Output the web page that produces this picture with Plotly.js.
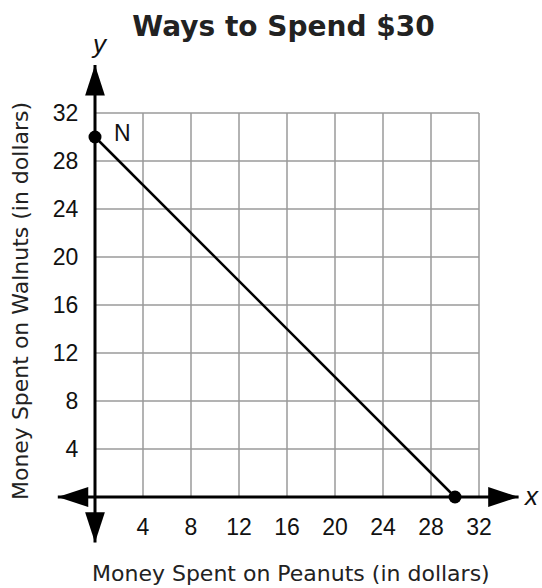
<!DOCTYPE html>
<html>
<head>
<meta charset="utf-8">
<script src="https://cdn.plot.ly/plotly-3.0.1.min.js"></script>
<style>html,body{margin:0;padding:0;background:#fff;}#chart{width:542px;height:588px;}</style>
</head>
<body>
<div id="chart"></div>
<script>
// ---- data ----
const gridVals = [0, 4, 8, 12, 16, 20, 24, 28, 32];
const tickVals = [4, 8, 12, 16, 20, 24, 28, 32];
const peanuts = [0, 30];      // x values of line endpoints
const walnuts = [30, 0];      // y values of line endpoints
const pointLabels = ['N', ''];
const xAxisEnds = [-3.1, 35.3];
const yAxisEnds = [-3.8, 36];
const titleText = 'Ways to Spend $30';
const xTitle = 'Money Spent on Peanuts (in dollars)';
const yTitle = 'Money Spent on Walnuts (in dollars)';

const xRange = [-4, 36];
const yRange = [-4, 37];

// ---- shapes: grid + axes ----
const shapes = [];
gridVals.forEach(v => {
  shapes.push({type:'line', xref:'x', yref:'y', x0:v, x1:v, y0:gridVals[0], y1:gridVals[gridVals.length-1],
    line:{color:'#9a9a9a', width:1.5}, layer:'below'});
  shapes.push({type:'line', xref:'x', yref:'y', y0:v, y1:v, x0:gridVals[0], x1:gridVals[gridVals.length-1],
    line:{color:'#9a9a9a', width:1.5}, layer:'below'});
});
shapes.push({type:'line', xref:'x', yref:'y', x0:xAxisEnds[0], x1:xAxisEnds[1], y0:0, y1:0, line:{color:'#000', width:3}});
shapes.push({type:'line', xref:'x', yref:'y', x0:0, x1:0, y0:yAxisEnds[0], y1:yAxisEnds[1], line:{color:'#000', width:3}});

const traces = [
  {
    x: peanuts, y: walnuts, mode:'lines+markers', type:'scatter',
    line:{color:'#000', width:2.5},
    marker:{color:'#000', size:13},
    cliponaxis:false, hoverinfo:'skip', showlegend:false
  },
  {
    x: [xAxisEnds[0], xAxisEnds[1], 0, 0],
    y: [0, 0, yAxisEnds[0], yAxisEnds[1]],
    mode:'markers', type:'scatter',
    marker:{symbol:'arrow', size:32, color:'#000', angle:[270, 90, 180, 0], line:{width:0}},
    cliponaxis:false, hoverinfo:'skip', showlegend:false
  }
];

const annotations = [
  {xref:'x', yref:'y', x:peanuts[0], y:walnuts[0], text:pointLabels[0], showarrow:false,
   xanchor:'left', yanchor:'middle', xshift:17, yshift:4,
   font:{family:'Liberation Sans', size:23, color:'#111'}},
  {xref:'x', yref:'y', x:xRange[1], y:0, text:'<i>x</i>', showarrow:false,
   xanchor:'left', yanchor:'middle', xshift:-6, yshift:1,
   font:{family:'Liberation Sans', size:26, color:'#111'}},
  {xref:'x', yref:'y', x:0, y:yRange[1], text:'<i>y</i>', showarrow:false,
   xanchor:'center', yanchor:'middle', xshift:4, yshift:9,
   font:{family:'Liberation Sans', size:26, color:'#111'}},
  {xref:'paper', yref:'paper', x:0.508, y:-0.058, text:xTitle, showarrow:false,
   xanchor:'center', yanchor:'middle',
   font:{family:'DejaVu Sans', size:22, color:'#222'}},
  {xref:'paper', yref:'paper', x:-0.054, y:0.496, text:yTitle, showarrow:false, textangle:-90,
   xanchor:'center', yanchor:'middle',
   font:{family:'DejaVu Sans', size:22, color:'#222'}}
];

const layout = {
  width:542, height:588,
  margin:{l:47, r:15, t:53, b:43},
  paper_bgcolor:'#fff', plot_bgcolor:'#fff',
  title:{text:titleText, xref:'container', yref:'container', x:0.523, y:1-26/588,
    xanchor:'center', yanchor:'middle',
    font:{family:'DejaVu Sans', size:28, weight:'bold', color:'#222'}},
  xaxis:{range:xRange, showgrid:false, zeroline:false, showline:false,
    tickmode:'array', tickvals:tickVals, ticktext:tickVals.map(String),
    ticks:'outside', ticklen:9, tickcolor:'rgba(0,0,0,0)',
    anchor:'free', position:(0 - yRange[0])/(yRange[1]-yRange[0]),
    tickfont:{family:'Liberation Sans', size:23, color:'#111'}, fixedrange:true},
  yaxis:{range:yRange, showgrid:false, zeroline:false, showline:false,
    tickmode:'array', tickvals:tickVals, ticktext:tickVals.map(String),
    ticks:'outside', ticklen:12, tickcolor:'rgba(0,0,0,0)',
    anchor:'free', position:(0 - xRange[0])/(xRange[1]-xRange[0]),
    tickfont:{family:'Liberation Sans', size:23, color:'#111'}, fixedrange:true},
  shapes:shapes,
  annotations:annotations,
  showlegend:false
};

Plotly.newPlot('chart', traces, layout, {staticPlot:true, displayModeBar:false});
</script>
</body>
</html>
